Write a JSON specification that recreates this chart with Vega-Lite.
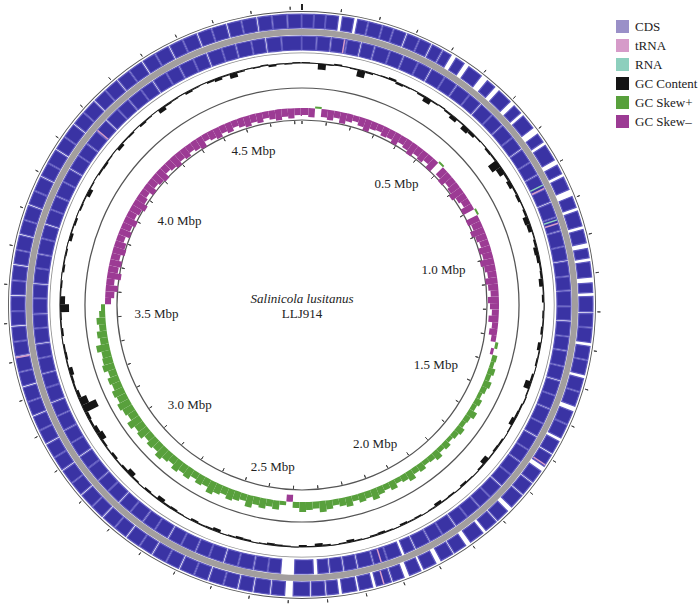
{
  "$schema": "https://vega.github.io/schema/vega-lite/v6.json",
  "width": 604,
  "height": 608,
  "padding": 0,
  "background": "white",
  "config": {"view": {"stroke": null}, "font": "Liberation Serif"},
  "datasets": {
    "genome": [{"start": 0, "end": 4.73}],
    "fwd": [
      {"s":0.000,"e":0.030},{"s":0.032,"e":0.061},{"s":0.063,"e":0.095},{"s":0.105,"e":0.135},{"s":0.145,"e":0.172},{"s":0.175,"e":0.210},{"s":0.213,"e":0.240},{"s":0.243,"e":0.275},{"s":0.280,"e":0.312},{"s":0.315,"e":0.345},{"s":0.350,"e":0.378},{"s":0.382,"e":0.405},
      {"s":0.420,"e":0.445},{"s":0.460,"e":0.500},{"s":0.520,"e":0.545},{"s":0.560,"e":0.600},{"s":0.615,"e":0.640},{"s":0.650,"e":0.690},{"s":0.710,"e":0.735},{"s":0.745,"e":0.790},{"s":0.805,"e":0.830},{"s":0.840,"e":0.875},{"s":0.895,"e":0.925},{"s":0.935,"e":0.975},{"s":0.985,"e":1.020},{"s":1.035,"e":1.060},{"s":1.070,"e":1.110},{"s":1.125,"e":1.150},{"s":1.160,"e":1.200},
      {"s":1.205,"e":1.240},{"s":1.243,"e":1.280},{"s":1.290,"e":1.325},{"s":1.328,"e":1.365},{"s":1.375,"e":1.410},{"s":1.413,"e":1.450},{"s":1.465,"e":1.500},{"s":1.503,"e":1.540},{"s":1.550,"e":1.585},{"s":1.590,"e":1.625},{"s":1.640,"e":1.675},{"s":1.680,"e":1.715},{"s":1.720,"e":1.760},{"s":1.775,"e":1.810},{"s":1.815,"e":1.850},{"s":1.860,"e":1.900},
      {"s":1.915,"e":1.950},{"s":1.955,"e":1.990},{"s":2.005,"e":2.040},{"s":2.048,"e":2.080},{"s":2.095,"e":2.125},{"s":2.130,"e":2.170},{"s":2.180,"e":2.215},{"s":2.222,"e":2.260},{"s":2.270,"e":2.300},{"s":2.305,"e":2.340},{"s":2.345,"e":2.388},{"s":2.410,"e":2.445},{"s":2.450,"e":2.490},{"s":2.495,"e":2.530},
      {"s":2.535,"e":2.570},{"s":2.573,"e":2.610},{"s":2.615,"e":2.650},{"s":2.653,"e":2.690},{"s":2.695,"e":2.730},{"s":2.733,"e":2.770},{"s":2.775,"e":2.810},{"s":2.813,"e":2.850},{"s":2.855,"e":2.890},{"s":2.893,"e":2.930},{"s":2.935,"e":2.970},{"s":2.973,"e":3.010},{"s":3.015,"e":3.050},{"s":3.053,"e":3.090},{"s":3.095,"e":3.130},{"s":3.133,"e":3.170},{"s":3.175,"e":3.210},{"s":3.213,"e":3.250},{"s":3.255,"e":3.290},{"s":3.293,"e":3.330},{"s":3.335,"e":3.370},{"s":3.373,"e":3.410},{"s":3.415,"e":3.450},{"s":3.453,"e":3.490},{"s":3.495,"e":3.530},{"s":3.533,"e":3.570},{"s":3.575,"e":3.610},{"s":3.613,"e":3.650},{"s":3.655,"e":3.690},{"s":3.693,"e":3.730},{"s":3.735,"e":3.770},{"s":3.773,"e":3.810},{"s":3.815,"e":3.850},{"s":3.853,"e":3.890},{"s":3.895,"e":3.930},{"s":3.933,"e":3.970},{"s":3.975,"e":4.010},{"s":4.013,"e":4.050},{"s":4.055,"e":4.090},{"s":4.093,"e":4.130},{"s":4.135,"e":4.170},{"s":4.173,"e":4.210},{"s":4.215,"e":4.250},{"s":4.253,"e":4.290},{"s":4.295,"e":4.330},{"s":4.333,"e":4.370},{"s":4.375,"e":4.410},{"s":4.413,"e":4.450},{"s":4.455,"e":4.490},{"s":4.493,"e":4.530},{"s":4.535,"e":4.570},{"s":4.573,"e":4.610},{"s":4.615,"e":4.650},{"s":4.653,"e":4.690},{"s":4.693,"e":4.728}
    ],
    "rev": [
      {"s":0.000,"e":0.040},{"s":0.043,"e":0.080},{"s":0.084,"e":0.125},{"s":0.128,"e":0.165},{"s":0.170,"e":0.205},{"s":0.209,"e":0.250},{"s":0.253,"e":0.290},{"s":0.294,"e":0.335},{"s":0.338,"e":0.375},{"s":0.380,"e":0.420},{"s":0.423,"e":0.460},{"s":0.464,"e":0.505},{"s":0.508,"e":0.545},{"s":0.550,"e":0.590},{"s":0.593,"e":0.630},{"s":0.634,"e":0.675},{"s":0.678,"e":0.715},{"s":0.720,"e":0.760},{"s":0.763,"e":0.800},{"s":0.804,"e":0.845},{"s":0.848,"e":0.885},{"s":0.890,"e":0.930},{"s":0.933,"e":0.970},{"s":0.974,"e":1.015},{"s":1.018,"e":1.055},{"s":1.060,"e":1.100},{"s":1.103,"e":1.140},{"s":1.144,"e":1.185},{"s":1.188,"e":1.225},{"s":1.230,"e":1.270},{"s":1.273,"e":1.310},{"s":1.314,"e":1.355},{"s":1.358,"e":1.395},{"s":1.400,"e":1.440},{"s":1.443,"e":1.480},{"s":1.484,"e":1.525},{"s":1.528,"e":1.565},{"s":1.570,"e":1.610},{"s":1.613,"e":1.650},{"s":1.654,"e":1.695},{"s":1.698,"e":1.735},{"s":1.740,"e":1.780},{"s":1.783,"e":1.820},{"s":1.824,"e":1.865},{"s":1.868,"e":1.905},{"s":1.910,"e":1.950},{"s":1.953,"e":1.990},{"s":1.994,"e":2.035},{"s":2.040,"e":2.070},{"s":2.080,"e":2.120},{"s":2.123,"e":2.160},{"s":2.164,"e":2.205},{"s":2.210,"e":2.245},{"s":2.250,"e":2.285},{"s":2.290,"e":2.320},{"s":2.333,"e":2.386},{"s":2.425,"e":2.460},{"s":2.463,"e":2.500},{"s":2.504,"e":2.545},{"s":2.548,"e":2.585},{"s":2.590,"e":2.630},{"s":2.633,"e":2.670},{"s":2.674,"e":2.715},{"s":2.718,"e":2.755},{"s":2.760,"e":2.800},{"s":2.803,"e":2.840},{"s":2.844,"e":2.885},{"s":2.888,"e":2.925},{"s":2.930,"e":2.970},{"s":2.973,"e":3.010},{"s":3.014,"e":3.055},{"s":3.058,"e":3.095},{"s":3.100,"e":3.140},{"s":3.143,"e":3.180},{"s":3.184,"e":3.225},{"s":3.228,"e":3.265},{"s":3.270,"e":3.310},{"s":3.313,"e":3.350},{"s":3.354,"e":3.395},{"s":3.398,"e":3.435},{"s":3.440,"e":3.480},{"s":3.483,"e":3.520},{"s":3.524,"e":3.565},{"s":3.568,"e":3.605},{"s":3.610,"e":3.650},{"s":3.653,"e":3.690},{"s":3.694,"e":3.735},{"s":3.738,"e":3.775},{"s":3.780,"e":3.820},{"s":3.823,"e":3.860},{"s":3.864,"e":3.905},{"s":3.908,"e":3.945},{"s":3.950,"e":3.990},{"s":3.993,"e":4.030},{"s":4.034,"e":4.075},{"s":4.078,"e":4.115},{"s":4.120,"e":4.160},{"s":4.163,"e":4.200},{"s":4.204,"e":4.245},{"s":4.248,"e":4.285},{"s":4.290,"e":4.330},{"s":4.333,"e":4.370},{"s":4.374,"e":4.415},{"s":4.418,"e":4.455},{"s":4.460,"e":4.500},{"s":4.503,"e":4.540},{"s":4.544,"e":4.585},{"s":4.588,"e":4.625},{"s":4.630,"e":4.670},{"s":4.673,"e":4.728}
    ],
    "win": [
      {"s":0.000,"e":0.025,"gc":1,"sk":-0.07},{"s":0.025,"e":0.050,"gc":0.5,"sk":-0.09},{"s":0.050,"e":0.075,"gc":-6,"sk":0.02},{"s":0.075,"e":0.100,"gc":-1,"sk":-0.08},{"s":0.100,"e":0.125,"gc":1.5,"sk":-0.10},
      {"s":0.125,"e":0.150,"gc":0.5,"sk":-0.07},{"s":0.150,"e":0.175,"gc":-1,"sk":-0.11},{"s":0.175,"e":0.200,"gc":-7,"sk":-0.08},{"s":0.200,"e":0.225,"gc":-1.5,"sk":-0.06},{"s":0.225,"e":0.250,"gc":0.5,"sk":-0.09},
      {"s":0.250,"e":0.275,"gc":1,"sk":-0.12},{"s":0.275,"e":0.300,"gc":2,"sk":-0.08},{"s":0.300,"e":0.325,"gc":-2,"sk":-0.07},{"s":0.325,"e":0.350,"gc":-1,"sk":-0.10},{"s":0.350,"e":0.375,"gc":0.5,"sk":-0.09},
      {"s":0.375,"e":0.400,"gc":-1.5,"sk":-0.12},{"s":0.400,"e":0.425,"gc":-5,"sk":-0.08},{"s":0.425,"e":0.450,"gc":-1,"sk":-0.10},{"s":0.450,"e":0.475,"gc":1,"sk":-0.13},{"s":0.475,"e":0.500,"gc":-1.5,"sk":-0.09},
      {"s":0.500,"e":0.525,"gc":-4,"sk":-0.11},{"s":0.525,"e":0.550,"gc":-1,"sk":-0.08},{"s":0.550,"e":0.575,"gc":-5,"sk":-0.12},{"s":0.575,"e":0.600,"gc":-3,"sk":0.02},{"s":0.600,"e":0.625,"gc":-1,"sk":-0.10},
      {"s":0.625,"e":0.650,"gc":0.5,"sk":-0.13},{"s":0.650,"e":0.675,"gc":-2,"sk":-0.09},{"s":0.675,"e":0.700,"gc":-1.5,"sk":-0.11},{"s":0.700,"e":0.725,"gc":-10,"sk":-0.14},{"s":0.725,"e":0.750,"gc":-6,"sk":-0.10},
      {"s":0.750,"e":0.775,"gc":-2,"sk":-0.08},{"s":0.775,"e":0.800,"gc":-4,"sk":-0.12},{"s":0.800,"e":0.825,"gc":-1.5,"sk":0.02},{"s":0.825,"e":0.850,"gc":-2.5,"sk":-0.13},{"s":0.850,"e":0.875,"gc":-1,"sk":-0.10},
      {"s":0.875,"e":0.900,"gc":-2,"sk":-0.14},{"s":0.900,"e":0.925,"gc":-5,"sk":-0.11},{"s":0.925,"e":0.950,"gc":-4,"sk":-0.09},{"s":0.950,"e":0.975,"gc":-1,"sk":-0.12},{"s":0.975,"e":1.000,"gc":-2,"sk":-0.10},
      {"s":1.000,"e":1.025,"gc":-4,"sk":-0.14},{"s":1.025,"e":1.050,"gc":-3,"sk":-0.11},{"s":1.050,"e":1.075,"gc":-1.5,"sk":-0.09},{"s":1.075,"e":1.100,"gc":-2,"sk":-0.12},{"s":1.100,"e":1.125,"gc":-4,"sk":-0.10},
      {"s":1.125,"e":1.150,"gc":-1,"sk":-0.08},{"s":1.150,"e":1.175,"gc":-2,"sk":-0.11},{"s":1.175,"e":1.200,"gc":0.5,"sk":-0.09},{"s":1.200,"e":1.225,"gc":-1.5,"sk":-0.07},{"s":1.225,"e":1.250,"gc":-1,"sk":-0.10},
      {"s":1.250,"e":1.275,"gc":-2,"sk":-0.06},{"s":1.275,"e":1.300,"gc":0.5,"sk":-0.08},{"s":1.300,"e":1.325,"gc":-3,"sk":-0.05},{"s":1.325,"e":1.350,"gc":-1,"sk":0.03},{"s":1.350,"e":1.375,"gc":-1.5,"sk":-0.03},
      {"s":1.375,"e":1.400,"gc":0.5,"sk":0.05},{"s":1.400,"e":1.425,"gc":-2,"sk":0.04},{"s":1.425,"e":1.450,"gc":-6,"sk":0.07},{"s":1.450,"e":1.475,"gc":-1,"sk":0.05},{"s":1.475,"e":1.500,"gc":1,"sk":0.08},
      {"s":1.500,"e":1.525,"gc":-1.5,"sk":0.06},{"s":1.525,"e":1.550,"gc":-2,"sk":0.04},{"s":1.550,"e":1.575,"gc":-4,"sk":0.07},{"s":1.575,"e":1.600,"gc":-1,"sk":0.05},{"s":1.600,"e":1.625,"gc":0.5,"sk":0.09},
      {"s":1.625,"e":1.650,"gc":-1.5,"sk":0.06},{"s":1.650,"e":1.675,"gc":-2,"sk":0.05},{"s":1.675,"e":1.700,"gc":-1,"sk":0.08},{"s":1.700,"e":1.725,"gc":-5,"sk":0.06},{"s":1.725,"e":1.750,"gc":-1.5,"sk":0.04},
      {"s":1.750,"e":1.775,"gc":0.5,"sk":0.07},{"s":1.775,"e":1.800,"gc":-1,"sk":0.05},{"s":1.800,"e":1.825,"gc":-2,"sk":0.09},{"s":1.825,"e":1.850,"gc":0.5,"sk":0.06},{"s":1.850,"e":1.875,"gc":-1.5,"sk":0.05},
      {"s":1.875,"e":1.900,"gc":-1,"sk":0.08},{"s":1.900,"e":1.925,"gc":-3,"sk":0.06},{"s":1.925,"e":1.950,"gc":-1,"sk":0.10},{"s":1.950,"e":1.975,"gc":0.5,"sk":0.07},{"s":1.975,"e":2.000,"gc":-1.5,"sk":0.05},
      {"s":2.000,"e":2.025,"gc":-1,"sk":0.09},{"s":2.025,"e":2.050,"gc":-2,"sk":0.06},{"s":2.050,"e":2.075,"gc":0.5,"sk":0.08},{"s":2.075,"e":2.100,"gc":-1,"sk":0.11},{"s":2.100,"e":2.125,"gc":-2,"sk":0.07},
      {"s":2.125,"e":2.150,"gc":-1.5,"sk":0.09},{"s":2.150,"e":2.175,"gc":0.5,"sk":0.06},{"s":2.175,"e":2.200,"gc":-1,"sk":0.10},{"s":2.200,"e":2.225,"gc":-2.5,"sk":0.08},{"s":2.225,"e":2.250,"gc":-1,"sk":0.06},
      {"s":2.250,"e":2.275,"gc":0.5,"sk":0.09},{"s":2.275,"e":2.300,"gc":-1.5,"sk":0.11},{"s":2.300,"e":2.325,"gc":-3,"sk":0.07},{"s":2.325,"e":2.350,"gc":-1,"sk":0.08},{"s":2.350,"e":2.375,"gc":-2,"sk":0.10},
      {"s":2.375,"e":2.400,"gc":0.5,"sk":0.06},{"s":2.400,"e":2.425,"gc":-1,"sk":-0.07},{"s":2.425,"e":2.450,"gc":-1.5,"sk":0.04},{"s":2.450,"e":2.475,"gc":-2,"sk":0.09},{"s":2.475,"e":2.500,"gc":-1,"sk":0.07},
      {"s":2.500,"e":2.525,"gc":0.5,"sk":0.10},{"s":2.525,"e":2.550,"gc":-1.5,"sk":0.08},{"s":2.550,"e":2.575,"gc":-2,"sk":0.12},{"s":2.575,"e":2.600,"gc":-1,"sk":0.07},{"s":2.600,"e":2.625,"gc":0.5,"sk":0.09},
      {"s":2.625,"e":2.650,"gc":-3,"sk":0.11},{"s":2.650,"e":2.675,"gc":-1.5,"sk":0.08},{"s":2.675,"e":2.700,"gc":-1,"sk":0.10},{"s":2.700,"e":2.725,"gc":-2,"sk":0.13},{"s":2.725,"e":2.750,"gc":0.5,"sk":0.08},
      {"s":2.750,"e":2.775,"gc":-1,"sk":0.10},{"s":2.775,"e":2.800,"gc":-2,"sk":0.07},{"s":2.800,"e":2.825,"gc":-1.5,"sk":0.11},{"s":2.825,"e":2.850,"gc":-4,"sk":0.09},{"s":2.850,"e":2.875,"gc":-1,"sk":0.12},
      {"s":2.875,"e":2.900,"gc":-2,"sk":0.08},{"s":2.900,"e":2.925,"gc":0.5,"sk":0.10},{"s":2.925,"e":2.950,"gc":-1.5,"sk":0.13},{"s":2.950,"e":2.975,"gc":-5,"sk":0.09},{"s":2.975,"e":3.000,"gc":-2,"sk":0.11},
      {"s":3.000,"e":3.025,"gc":-1,"sk":0.08},{"s":3.025,"e":3.050,"gc":-2.5,"sk":0.12},{"s":3.050,"e":3.075,"gc":-1,"sk":0.10},{"s":3.075,"e":3.100,"gc":-2,"sk":0.14},{"s":3.100,"e":3.125,"gc":-6,"sk":0.09},
      {"s":3.125,"e":3.150,"gc":-4,"sk":0.11},{"s":3.150,"e":3.175,"gc":-2,"sk":0.13},{"s":3.175,"e":3.200,"gc":-3,"sk":0.10},{"s":3.200,"e":3.225,"gc":-15,"sk":0.12},{"s":3.225,"e":3.250,"gc":-8,"sk":0.09},
      {"s":3.250,"e":3.275,"gc":-3,"sk":0.11},{"s":3.275,"e":3.300,"gc":-1.5,"sk":0.08},{"s":3.300,"e":3.325,"gc":-2,"sk":0.12},{"s":3.325,"e":3.350,"gc":-4,"sk":0.10},{"s":3.350,"e":3.375,"gc":-1,"sk":0.09},
      {"s":3.375,"e":3.400,"gc":-2,"sk":0.13},{"s":3.400,"e":3.425,"gc":-1.5,"sk":0.08},{"s":3.425,"e":3.450,"gc":0.5,"sk":0.10},{"s":3.450,"e":3.475,"gc":-2,"sk":0.07},{"s":3.475,"e":3.500,"gc":-1,"sk":0.09},
      {"s":3.500,"e":3.525,"gc":-1.5,"sk":0.06},{"s":3.525,"e":3.550,"gc":-9,"sk":0.04},{"s":3.550,"e":3.575,"gc":-5,"sk":-0.06},{"s":3.575,"e":3.600,"gc":-1,"sk":-0.09},{"s":3.600,"e":3.625,"gc":-1.5,"sk":-0.12},
      {"s":3.625,"e":3.650,"gc":0.5,"sk":-0.08},{"s":3.650,"e":3.675,"gc":-2,"sk":-0.14},{"s":3.675,"e":3.700,"gc":-1,"sk":-0.10},{"s":3.700,"e":3.725,"gc":-1.5,"sk":-0.12},{"s":3.725,"e":3.750,"gc":0.5,"sk":-0.09},
      {"s":3.750,"e":3.775,"gc":-3,"sk":-0.13},{"s":3.775,"e":3.800,"gc":-1,"sk":-0.11},{"s":3.800,"e":3.825,"gc":-2,"sk":-0.08},{"s":3.825,"e":3.850,"gc":0.5,"sk":-0.12},{"s":3.850,"e":3.875,"gc":-1.5,"sk":-0.10},
      {"s":3.875,"e":3.900,"gc":-1,"sk":-0.13},{"s":3.900,"e":3.925,"gc":-4,"sk":-0.09},{"s":3.925,"e":3.950,"gc":-1,"sk":-0.11},{"s":3.950,"e":3.975,"gc":0.5,"sk":-0.14},{"s":3.975,"e":4.000,"gc":-1.5,"sk":-0.10},
      {"s":4.000,"e":4.025,"gc":-2,"sk":-0.08},{"s":4.025,"e":4.050,"gc":-1,"sk":-0.12},{"s":4.050,"e":4.075,"gc":0.5,"sk":-0.09},{"s":4.075,"e":4.100,"gc":-3,"sk":-0.11},{"s":4.100,"e":4.125,"gc":-1,"sk":-0.13},
      {"s":4.125,"e":4.150,"gc":-1.5,"sk":-0.08},{"s":4.150,"e":4.175,"gc":0.5,"sk":-0.10},{"s":4.175,"e":4.200,"gc":-2,"sk":-0.12},{"s":4.200,"e":4.225,"gc":-1,"sk":-0.09},{"s":4.225,"e":4.250,"gc":0.5,"sk":-0.11},
      {"s":4.250,"e":4.275,"gc":-4,"sk":-0.08},{"s":4.275,"e":4.300,"gc":-1.5,"sk":-0.10},{"s":4.300,"e":4.325,"gc":-1,"sk":-0.12},{"s":4.325,"e":4.350,"gc":0.5,"sk":-0.07},{"s":4.350,"e":4.375,"gc":-2,"sk":-0.09},
      {"s":4.375,"e":4.400,"gc":-1,"sk":-0.11},{"s":4.400,"e":4.425,"gc":0.5,"sk":-0.08},{"s":4.425,"e":4.450,"gc":-1.5,"sk":-0.10},{"s":4.450,"e":4.475,"gc":-3,"sk":-0.07},{"s":4.475,"e":4.500,"gc":-1,"sk":-0.09},
      {"s":4.500,"e":4.525,"gc":-5,"sk":-0.11},{"s":4.525,"e":4.550,"gc":-1.5,"sk":-0.08},{"s":4.550,"e":4.575,"gc":0.5,"sk":-0.10},{"s":4.575,"e":4.600,"gc":-1,"sk":-0.07},{"s":4.600,"e":4.625,"gc":1,"sk":-0.09},
      {"s":4.625,"e":4.650,"gc":-2,"sk":-0.11},{"s":4.650,"e":4.675,"gc":0.5,"sk":-0.08},{"s":4.675,"e":4.700,"gc":-1,"sk":-0.10},{"s":4.700,"e":4.725,"gc":1,"sk":-0.07},{"s":4.725,"e":4.730,"gc":0.5,"sk":-0.08}
    ],
    "feat": [
      {"type":"tRNA","p":0.12,"strand":"-"},{"type":"RNA","p":0.835,"strand":"-"},{"type":"tRNA","p":0.845,"strand":"-"},{"type":"RNA","p":0.94,"strand":"-"},{"type":"tRNA","p":0.95,"strand":"-"},{"type":"tRNA","p":1.62,"strand":"+"},{"type":"tRNA","p":2.14,"strand":"-"},{"type":"tRNA","p":2.15,"strand":"+"},{"type":"tRNA","p":3.41,"strand":"+"},{"type":"tRNA","p":4.08,"strand":"-"}
    ],
    "ticks": [
      {"p":0.0},{"p":0.1},{"p":0.2},{"p":0.3},{"p":0.4},{"p":0.5,"label":"0.5 Mbp"},{"p":0.6},{"p":0.7},{"p":0.8},{"p":0.9},
      {"p":1.0,"label":"1.0 Mbp"},{"p":1.1},{"p":1.2},{"p":1.3},{"p":1.4},{"p":1.5,"label":"1.5 Mbp"},{"p":1.6},{"p":1.7},{"p":1.8},{"p":1.9},
      {"p":2.0,"label":"2.0 Mbp"},{"p":2.1},{"p":2.2},{"p":2.3},{"p":2.4},{"p":2.5,"label":"2.5 Mbp"},{"p":2.6},{"p":2.7},{"p":2.8},{"p":2.9},
      {"p":3.0,"label":"3.0 Mbp"},{"p":3.1},{"p":3.2},{"p":3.3},{"p":3.4},{"p":3.5,"label":"3.5 Mbp"},{"p":3.6},{"p":3.7},{"p":3.8},{"p":3.9},
      {"p":4.0,"label":"4.0 Mbp"},{"p":4.1},{"p":4.2},{"p":4.3},{"p":4.4},{"p":4.5,"label":"4.5 Mbp"},{"p":4.6},{"p":4.7}
    ]
  },
  "layer": [
    {"data": {"name": "genome"}, "mark": {"type": "arc", "radius": 294, "radius2": 293, "fill": "#555555"},
     "encoding": {"theta": {"field": "start", "type": "quantitative", "scale": {"domain": [0, 4.73], "range": [0, 6.283185307]}, "stack": null}, "theta2": {"field": "end"}}},
    {"data": {"name": "genome"}, "mark": {"type": "arc", "radius": 276, "radius2": 270, "fill": "#a29e9e"},
     "encoding": {"theta": {"field": "start", "type": "quantitative", "scale": {"domain": [0, 4.73], "range": [0, 6.283185307]}, "stack": null}, "theta2": {"field": "end"}}},
    {"data": {"name": "genome"}, "mark": {"type": "arc", "radius": 252.6, "radius2": 251.8, "fill": "#8a8a8a"},
     "encoding": {"theta": {"field": "start", "type": "quantitative", "scale": {"domain": [0, 4.73], "range": [0, 6.283185307]}, "stack": null}, "theta2": {"field": "end"}}},
    {"data": {"name": "genome"}, "mark": {"type": "arc", "radius": 242.6, "radius2": 241.6, "fill": "#222222"},
     "encoding": {"theta": {"field": "start", "type": "quantitative", "scale": {"domain": [0, 4.73], "range": [0, 6.283185307]}, "stack": null}, "theta2": {"field": "end"}}},
    {"data": {"name": "genome"}, "mark": {"type": "arc", "radius": 217.6, "radius2": 216.4, "fill": "#555555"},
     "encoding": {"theta": {"field": "start", "type": "quantitative", "scale": {"domain": [0, 4.73], "range": [0, 6.283185307]}, "stack": null}, "theta2": {"field": "end"}}},
    {"data": {"name": "genome"}, "mark": {"type": "arc", "radius": 185.6, "radius2": 184.4, "fill": "#555555"},
     "encoding": {"theta": {"field": "start", "type": "quantitative", "scale": {"domain": [0, 4.73], "range": [0, 6.283185307]}, "stack": null}, "theta2": {"field": "end"}}},
    {"data": {"name": "fwd"}, "mark": {"type": "arc", "radius": 291, "radius2": 277, "fill": "#3a33a4", "stroke": "#5f59bf", "strokeWidth": 1.2},
     "encoding": {"theta": {"field": "s", "type": "quantitative", "scale": {"domain": [0, 4.73], "range": [0, 6.283185307]}, "stack": null}, "theta2": {"field": "e"}}},
    {"data": {"name": "rev"}, "mark": {"type": "arc", "radius": 269, "radius2": 255, "fill": "#3a33a4", "stroke": "#5f59bf", "strokeWidth": 1.2},
     "encoding": {"theta": {"field": "s", "type": "quantitative", "scale": {"domain": [0, 4.73], "range": [0, 6.283185307]}, "stack": null}, "theta2": {"field": "e"}}},
    {"data": {"name": "win"}, "mark": {"type": "arc"},
     "encoding": {"theta": {"field": "s", "type": "quantitative", "scale": {"domain": [0, 4.73], "range": [0, 6.283185307]}, "stack": null}, "theta2": {"field": "e"},
       "radius": {"field": "gc", "type": "quantitative", "scale": {"type": "linear", "domain": [-20, 20], "range": [222, 262], "zero": false}},
       "radius2": {"datum": 0},
       "color": {"datum": "GC Content", "type": "nominal", "title": null, "scale": {"domain": ["CDS", "tRNA", "RNA", "GC Content", "GC Skew+", "GC Skew–"], "range": ["#9a90c8", "#d69bc9", "#8dcfbd", "#151515", "#58a03c", "#9c3b94"]},
         "legend": {"orient": "none", "legendX": 616, "legendY": 19, "title": null, "symbolType": "square", "symbolSize": 169, "symbolStrokeWidth": 0, "labelFont": "Liberation Serif", "labelFontSize": 13, "labelColor": "#222222", "rowPadding": 5, "labelOffset": 6, "padding": 0}}}},
    {"data": {"name": "win"}, "transform": [{"filter": "datum.sk >= 0"}], "mark": {"type": "arc"},
     "encoding": {"theta": {"field": "s", "type": "quantitative", "scale": {"domain": [0, 4.73], "range": [0, 6.283185307]}, "stack": null}, "theta2": {"field": "e"},
       "radius": {"field": "sk", "type": "quantitative", "scale": {"type": "linear", "domain": [-0.15, 0.15], "range": [182, 212], "zero": false}},
       "radius2": {"datum": 0},
       "color": {"datum": "GC Skew+", "type": "nominal", "title": null}}},
    {"data": {"name": "win"}, "transform": [{"filter": "datum.sk < 0"}], "mark": {"type": "arc"},
     "encoding": {"theta": {"field": "s", "type": "quantitative", "scale": {"domain": [0, 4.73], "range": [0, 6.283185307]}, "stack": null}, "theta2": {"field": "e"},
       "radius": {"field": "sk", "type": "quantitative", "scale": {"type": "linear", "domain": [-0.15, 0.15], "range": [182, 212], "zero": false}},
       "radius2": {"datum": 0},
       "color": {"datum": "GC Skew–", "type": "nominal", "title": null}}},
    {"data": {"name": "feat"}, "transform": [{"filter": "datum.strand == '+'"}], "mark": {"type": "arc", "filled": false, "strokeWidth": 1.5, "radius": 291, "radius2": 277},
     "encoding": {"theta": {"field": "p", "type": "quantitative", "scale": {"domain": [0, 4.73], "range": [0, 6.283185307]}, "stack": null}, "theta2": {"field": "p"},
       "color": {"field": "type", "type": "nominal", "title": null}}},
    {"data": {"name": "feat"}, "transform": [{"filter": "datum.strand == '-'"}], "mark": {"type": "arc", "filled": false, "strokeWidth": 1.5, "radius": 269, "radius2": 255},
     "encoding": {"theta": {"field": "p", "type": "quantitative", "scale": {"domain": [0, 4.73], "range": [0, 6.283185307]}, "stack": null}, "theta2": {"field": "p"},
       "color": {"field": "type", "type": "nominal", "title": null}}},
    {"data": {"name": "ticks"}, "transform": [{"filter": "datum.p > 0"}], "mark": {"type": "arc", "filled": false, "stroke": "#444444", "strokeWidth": 1, "radius": 298.5, "radius2": 295.5},
     "encoding": {"theta": {"field": "p", "type": "quantitative", "scale": {"domain": [0, 4.73], "range": [0, 6.283185307]}, "stack": null}, "theta2": {"field": "p"}}},
    {"data": {"name": "ticks"}, "transform": [{"filter": "datum.p == 0"}], "mark": {"type": "arc", "filled": false, "stroke": "#222222", "strokeWidth": 2, "radius": 301, "radius2": 295},
     "encoding": {"theta": {"field": "p", "type": "quantitative", "scale": {"domain": [0, 4.73], "range": [0, 6.283185307]}, "stack": null}, "theta2": {"field": "p"}}},
    {"data": {"name": "ticks"}, "mark": {"type": "arc", "filled": false, "stroke": "#444444", "strokeWidth": 1, "radius": 184, "radius2": 181},
     "encoding": {"theta": {"field": "p", "type": "quantitative", "scale": {"domain": [0, 4.73], "range": [0, 6.283185307]}, "stack": null}, "theta2": {"field": "p"}}},
    {"data": {"name": "ticks"}, "transform": [{"filter": "isValid(datum.label)"}],
     "mark": {"type": "text", "font": "Liberation Serif", "fontSize": 13, "color": "#222222", "align": "center", "baseline": "middle",
       "radius": {"expr": "173 - 27*abs(sin(datum.p/4.73*2*PI)) - 4*abs(cos(datum.p/4.73*2*PI))"}},
     "encoding": {"theta": {"field": "p", "type": "quantitative", "scale": {"domain": [0, 4.73], "range": [0, 6.283185307]}, "stack": null}, "text": {"field": "label"}}},
    {"data": {"name": "genome"}, "mark": {"type": "text", "text": "Salinicola lusitanus", "font": "Liberation Serif", "fontStyle": "italic", "fontSize": 13, "color": "#222222", "dy": -6, "baseline": "middle"}, "encoding": {}},
    {"data": {"name": "genome"}, "mark": {"type": "text", "text": "LLJ914", "font": "Liberation Serif", "fontSize": 13, "color": "#222222", "dy": 9, "baseline": "middle"}, "encoding": {}}
  ],
  "resolve": {"scale": {"radius": "independent"}}
}
